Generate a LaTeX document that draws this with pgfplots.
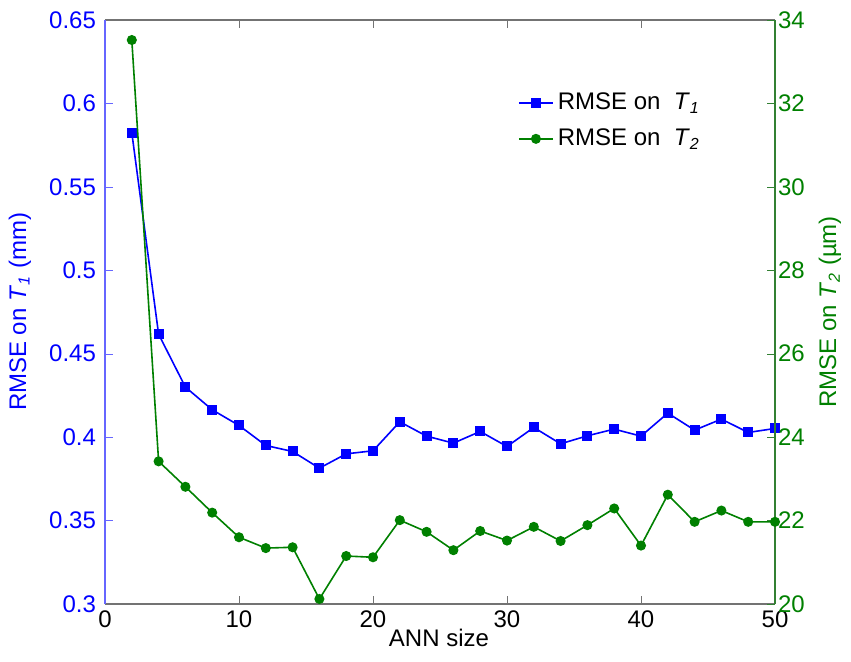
\documentclass[border=0pt]{standalone}
\usepackage{fontspec}
\setmainfont{Liberation Sans}
\usepackage{pgfplots}
\pgfplotsset{compat=1.18}
\definecolor{mblue}{RGB}{0,0,255}
\definecolor{mgreen}{RGB}{0,128,0}
\begin{document}
\begin{tikzpicture}
\pgfplotsset{every axis/.append style={
  font=\fontsize{12}{14.4}\selectfont,
  width=335pt, height=292pt, scale only axis,
  xmin=0, xmax=50, clip=false,
  tick align=inside, major tick length=4pt,
  /pgf/number format/assume math mode=true}}
\begin{axis}[
  ymin=0.3, ymax=0.65,
  axis x line*=box, axis y line*=left,
  x axis line style={black!55, line width=0.6pt},
  y axis line style={mblue!60, line width=0.6pt},
  xtick={0,10,20,30,40,50},
  xtick style={black!55},
  ytick={0.3,0.35,0.4,0.45,0.5,0.55,0.6,0.65},
  ytick style={mblue!60},
  yticklabel style={mblue, /pgf/number format/fixed, /pgf/number format/precision=2, xshift=-1pt},
  xticklabel style={black},
  xlabel={ANN size},
  xlabel style={at={(axis description cs:0.4985,-0.058)}, anchor=center},
  ylabel={RMSE on \textit{T}\textsubscript{\textit{1}} (mm)},
  ylabel style={mblue, at={(axis description cs:-0.127,0.5)}, anchor=center, rotate=0},
]
\addplot[mblue, line width=0.8pt, mark=square*, mark size=2.1pt] coordinates {
(2,0.5825) (4,0.4617) (6,0.430) (8,0.4164) (10,0.407) (12,0.395) (14,0.3914)
(16,0.3814) (18,0.390) (20,0.3918) (22,0.4092) (24,0.4006) (26,0.3964) (28,0.4034)
(30,0.3944) (32,0.4058) (34,0.396) (36,0.4008) (38,0.4048) (40,0.4006) (42,0.4144)
(44,0.4042) (46,0.4108) (48,0.4028) (50,0.4052)};
\end{axis}
\begin{axis}[
  ymin=20, ymax=34,
  axis x line=none, axis y line*=right,
  y axis line style={mgreen!60!gray, line width=0.6pt},
  ytick={20,22,24,26,28,30,32,34},
  ytick style={mgreen!60!gray},
  yticklabel style={mgreen, anchor=west, xshift=-2pt},
  ylabel={RMSE on \textit{T}\textsubscript{\textit{2}} (µm)},
  ylabel style={mgreen, at={(axis description cs:1.082,0.5)}, anchor=center, rotate=0},
  legend style={at={(axis description cs:0.607,0.889)}, anchor=north west, draw=none, fill=none,
    font=\fontsize{12}{14.4}\selectfont, row sep=4pt},
  legend cell align=left,
]
\addlegendimage{mblue, line width=0.8pt, mark=square*, mark size=2.1pt}
\addlegendentry{RMSE on \ \textit{T}\textsubscript{\textit{1}}}
\addplot[mgreen, line width=0.8pt, mark=*, mark size=2.1pt] coordinates {
(2,33.52) (4,23.42) (6,22.81) (8,22.19) (10,21.60) (12,21.34) (14,21.36)
(16,20.12) (18,21.15) (20,21.12) (22,22.01) (24,21.73) (26,21.29) (28,21.75)
(30,21.52) (32,21.85) (34,21.51) (36,21.89) (38,22.29) (40,21.40) (42,22.62)
(44,21.97) (46,22.24) (48,21.97) (50,21.97)};
\addlegendentry{RMSE on \ \textit{T}\textsubscript{\textit{2}}}
\end{axis}
\path[use as bounding box] (-52.5pt,-29pt) rectangle (373pt,302pt);
\end{tikzpicture}
\end{document}
